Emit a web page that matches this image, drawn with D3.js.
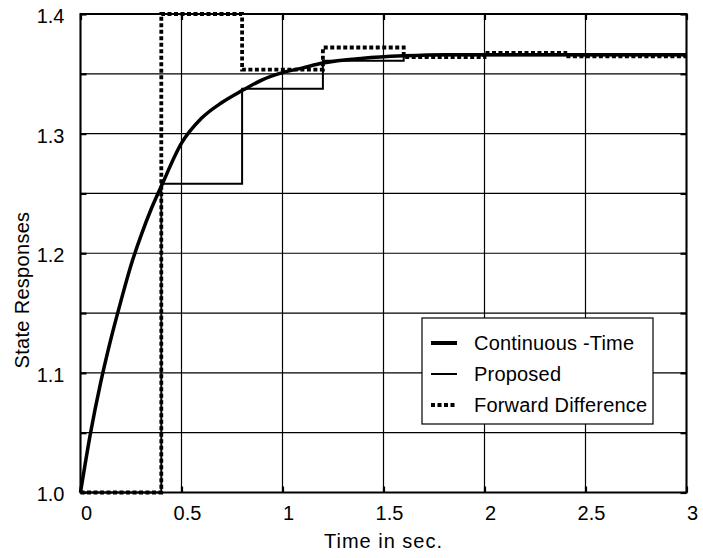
<!DOCTYPE html>
<html>
<head>
<meta charset="utf-8">
<script src="https://cdn.jsdelivr.net/npm/d3@7"></script>
<style>
  body { margin: 0; background: #fff; }
  svg text { font-family: "Liberation Sans", Arial, sans-serif; fill: #000; }
</style>
</head>
<body>
<svg id="chart" width="703" height="558"></svg>
<script>
// data
var contTime  = [0, 0.05, 0.1, 0.15, 0.2, 0.25, 0.3, 0.35, 0.4, 0.5, 0.6, 0.7, 0.8, 0.9, 1.0, 1.1, 1.2, 1.4, 1.6, 1.8, 2.0, 2.5, 3.0];
var contValue = [1.0, 1.05, 1.092, 1.128, 1.16, 1.19, 1.215, 1.237, 1.256, 1.292, 1.313, 1.326, 1.336, 1.345, 1.351, 1.355, 1.359, 1.363, 1.365, 1.366, 1.366, 1.366, 1.366];

var propTime  = [0, 0.4, 0.8, 1.2, 1.6, 3.0];
var propValue = [1.0, 1.258, 1.3375, 1.361, 1.3655, 1.3655];

var fwdTime  = [0, 0.4, 0.8, 1.2, 1.6, 2.0, 2.4, 3.0];
var fwdValue = [1.0, 1.4, 1.3535, 1.372, 1.364, 1.3675, 1.3645, 1.3645];

var xTicks = [0, 0.5, 1, 1.5, 2, 2.5, 3];
var yTicks = [1.0, 1.05, 1.1, 1.15, 1.2, 1.25, 1.3, 1.35, 1.4];
var yLabels = ["1.0", "", "1.1", "", "1.2", "", "1.3", "", "1.4"];
var xLabels = ["0", "0.5", "1", "1.5", "2", "2.5", "3"];

var legendNames = ["Continuous -Time", "Proposed", "Forward Difference"];

var padLeft = 80.5, padTop = 14, width = 606, height = 478.5;

var svg = d3.select("#chart");
var g = svg.append("g").attr("transform", "translate(" + padLeft + "," + padTop + ")");

var x = d3.scaleLinear().domain([0, 3]).range([0, width]);
var y = d3.scaleLinear().domain([1.0, 1.4]).range([height, 0]);

// grid
g.append("g").selectAll("line").data(xTicks).enter().append("line")
	.attr("x1", function(d) { return x(d); }).attr("x2", function(d) { return x(d); })
	.attr("y1", 0).attr("y2", height)
	.attr("stroke", "#000").attr("stroke-width", 1.2);
g.append("g").selectAll("line").data(yTicks).enter().append("line")
	.attr("x1", 0).attr("x2", width)
	.attr("y1", function(d) { return y(d); }).attr("y2", function(d) { return y(d); })
	.attr("stroke", "#000").attr("stroke-width", 1.2);

// axes (ticks inward, labels)
var axL = d3.axisLeft(y).tickValues(yTicks).tickSize(-6).tickPadding(16)
	.tickFormat(function(d, i) { return yLabels[i]; });
var axB = d3.axisBottom(x).tickValues(xTicks).tickSize(-6).tickPadding(13)
	.tickFormat(function(d, i) { return xLabels[i]; });
var axR = d3.axisRight(y).tickValues(yTicks).tickSize(-6).tickFormat("");
var axT = d3.axisTop(x).tickValues(xTicks).tickSize(-6).tickFormat("");

function style(sel) {
	sel.select(".domain").remove();
	sel.selectAll(".tick line").attr("stroke", "#000").attr("stroke-width", 2.2);
	sel.selectAll("text").attr("font-size", 20).attr("font-family", "Liberation Sans, Arial, sans-serif");
}
g.append("g").call(axL).call(style).selectAll("text").attr("dy", "0.42em");
g.append("g").attr("transform", "translate(0," + height + ")").call(axB).call(style)
	.selectAll("text").attr("dx", 5.5);
g.append("g").attr("transform", "translate(" + width + ",0)").call(axR).call(style);
g.append("g").call(axT).call(style);

// frame
g.append("rect").attr("width", width).attr("height", height)
	.attr("fill", "none").attr("stroke", "#000").attr("stroke-width", 2);

// series
var contData = contTime.map(function(t, i) { return [t, contValue[i]]; });
var propData = propTime.map(function(t, i) { return [t, propValue[i]]; });
var fwdData = fwdTime.map(function(t, i) { return [t, fwdValue[i]]; });

var stepLine = d3.line().x(function(d) { return x(d[0]); }).y(function(d) { return y(d[1]); })
	.curve(d3.curveStepAfter);
var smoothLine = d3.line().x(function(d) { return x(d[0]); }).y(function(d) { return y(d[1]); })
	.curve(d3.curveMonotoneX);

g.append("path").datum(propData).attr("d", stepLine)
	.attr("fill", "none").attr("stroke", "#000").attr("stroke-width", 2);
g.append("path").datum(fwdData).attr("d", stepLine)
	.attr("fill", "none").attr("stroke", "#000").attr("stroke-width", 3.8)
	.attr("stroke-dasharray", "4,2.5");
g.append("path").datum(contData).attr("d", smoothLine)
	.attr("fill", "none").attr("stroke", "#000").attr("stroke-width", 3.5);

// legend
var lg = svg.append("g").attr("transform", "translate(422,318)");
lg.append("rect").attr("width", 231).attr("height", 106)
	.attr("fill", "#fff").attr("stroke", "#000").attr("stroke-width", 1.2);
var legStyles = [
	{ w: 4, dash: null },
	{ w: 2, dash: null },
	{ w: 3.8, dash: "4,2.5" }
];
var rows = lg.selectAll("g.row").data(legendNames).enter().append("g")
	.attr("class", "row")
	.attr("transform", function(d, i) { return "translate(0," + (25 + i * 31) + ")"; });
rows.append("line").attr("x1", 9).attr("x2", 35).attr("y1", 0).attr("y2", 0)
	.attr("stroke", "#000")
	.attr("stroke-width", function(d, i) { return legStyles[i].w; })
	.attr("stroke-dasharray", function(d, i) { return legStyles[i].dash; });
rows.append("text").attr("x", 52).attr("y", 0).attr("dy", "0.36em")
	.attr("font-size", 20).attr("letter-spacing", 0.2).text(function(d) { return d; });

// axis titles
svg.append("text").attr("x", padLeft + width / 2).attr("y", 548)
	.attr("text-anchor", "middle").attr("font-size", 20).attr("letter-spacing", 1)
	.text("Time in sec.");
svg.append("text").attr("transform", "translate(29,290) rotate(-90)")
	.attr("text-anchor", "middle").attr("font-size", 20).attr("letter-spacing", 0.3)
	.text("State Responses");
</script>
</body>
</html>
